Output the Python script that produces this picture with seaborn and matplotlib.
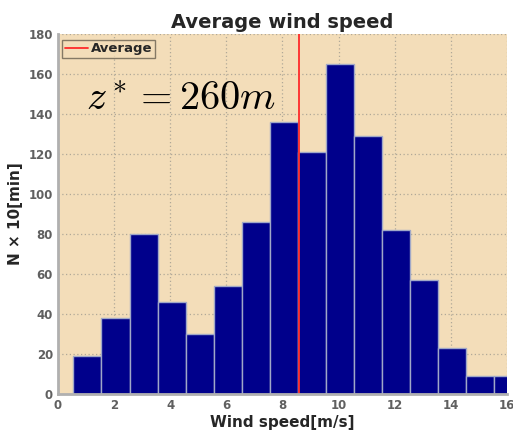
import pandas as pd
import seaborn as sns
import matplotlib.pyplot as plt

# histogram bins (m/s) and counts
bin_centers = [1.05, 2.05, 3.05, 4.05, 5.05, 6.05, 7.05, 8.05,
               9.05, 10.05, 11.05, 12.05, 13.05, 14.05, 15.05, 16.05]
counts = [19, 38, 80, 46, 30, 54, 86, 136, 121, 165, 129, 82, 57, 23, 9, 9]
average_speed = 8.58

df = pd.DataFrame({'speed': bin_centers, 'count': counts})
edges = [round(0.55 + i, 2) for i in range(17)]

sns.set_theme(style="white")
plt.rcParams['font.family'] = ['DejaVu Sans']
plt.rcParams['mathtext.fontset'] = 'cm'

fig = plt.figure(figsize=(5.13, 4.34), dpi=100)
ax = fig.add_axes([0.113, 0.092, 0.875, 0.83])
ax.set_facecolor('#f3ddb9')
ax.set_axisbelow(True)

sns.histplot(data=df, x='speed', weights='count', bins=edges, ax=ax,
             color='#00008b', alpha=1, edgecolor='#a0a8c8', linewidth=1.0)

avg_line = ax.axvline(average_speed, color='#ff2a2a', lw=1.3, label='Average')

ax.set_xlim(0, 16)
ax.set_ylim(0, 180)
ax.set_xticks(range(0, 17, 2))
ax.set_yticks(range(0, 181, 20))
ax.grid(True, linestyle=(0, (1, 2)), color='#b0a898', linewidth=0.9)

for s in ['top', 'right']:
    ax.spines[s].set_visible(False)
for s in ['left', 'bottom']:
    ax.spines[s].set_color('#b0b0b0')
    ax.spines[s].set_linewidth(2.0)

ax.tick_params(axis='both', labelsize=8.5, colors='#606060', length=3,
               direction='in', width=0.8)
for lab in ax.get_xticklabels() + ax.get_yticklabels():
    lab.set_fontweight('bold')

ax.set_xlabel('Wind speed[m/s]', fontsize=11, fontweight='bold', labelpad=2)
ax.set_ylabel('N × 10[min]', fontsize=11, fontweight='bold', labelpad=4)
ax.set_title('Average wind speed', fontsize=14, fontweight='bold', pad=4)

ax.text(1.0, 142, r'$z^* = 260m$', fontsize=29, color='black')

leg = ax.legend(handles=[avg_line], loc='upper left', fontsize=9.5,
                frameon=True, fancybox=False, borderpad=0.2,
                handlelength=1.8, handletextpad=0.2,
                bbox_to_anchor=(0.0, 0.995), borderaxespad=0.3)
leg.get_frame().set_facecolor('#f3ddb9')
leg.get_frame().set_edgecolor('#6a6050')
leg.get_frame().set_linewidth(1.0)
for t in leg.get_texts():
    t.set_fontweight('bold')

fig.savefig('out.png', dpi=100)
